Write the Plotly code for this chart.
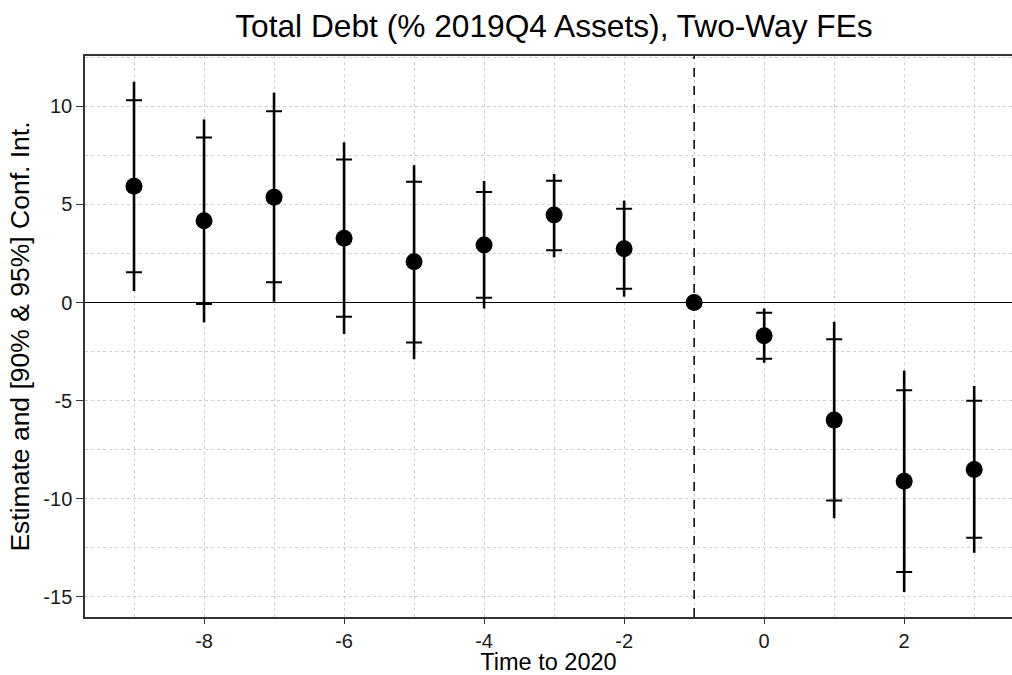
import plotly.graph_objects as go

# Event-time coefficients, relative to the year before 2020
periods = [-9, -8, -7, -6, -5, -4, -3, -2, -1, 0, 1, 2, 3]
estimate = [5.93, 4.17, 5.37, 3.27, 2.08, 2.93, 4.46, 2.74, 0.0, -1.69, -5.99, -9.11, -8.50]
ci95_hi = [11.25, 9.33, 10.69, 8.16, 7.00, 6.19, 6.55, 5.19, 0.0, -0.30, -0.98, -3.47, -4.25]
ci95_lo = [0.59, -1.01, 0.04, -1.60, -2.89, -0.30, 2.30, 0.30, 0.0, -3.07, -10.99, -14.75, -12.75]
ci90_hi = [10.30, 8.41, 9.74, 7.29, 6.15, 5.63, 6.21, 4.78, 0.0, -0.52, -1.87, -4.47, -5.00]
ci90_lo = [1.54, -0.08, 1.03, -0.72, -2.03, 0.25, 2.67, 0.70, 0.0, -2.86, -10.08, -13.73, -11.98]

ref_period = -1

# Tick positions and labels (plain hyphen for negatives)
x_tickvals = [-8, -6, -4, -2, 0, 2]
x_ticktext = ["-8", "-6", "-4", "-2", "0", "2"]
y_tickvals = [-15, -10, -5, 0, 5, 10]
y_ticktext = ["-15", "-10", "-5", "0", "5", "10"]

err95_up = [h - e for h, e in zip(ci95_hi, estimate)]
err95_dn = [e - l for l, e in zip(ci95_lo, estimate)]
err90_up = [h - e for h, e in zip(ci90_hi, estimate)]
err90_dn = [e - l for l, e in zip(ci90_lo, estimate)]

fig = go.Figure()

# 95% interval: plain vertical segment
fig.add_trace(go.Scatter(
    x=periods, y=estimate, mode="markers",
    marker=dict(size=0.1, color="rgba(0,0,0,0)"),
    error_y=dict(type="data", symmetric=False, array=err95_up, arrayminus=err95_dn,
                 width=0, thickness=2.6, color="black"),
    showlegend=False, hoverinfo="skip",
))

# 90% interval: horizontal bars at the bounds
fig.add_trace(go.Scatter(
    x=periods, y=estimate, mode="markers",
    marker=dict(size=0.1, color="rgba(0,0,0,0)"),
    error_y=dict(type="data", symmetric=False, array=err90_up, arrayminus=err90_dn,
                 width=8, thickness=2, color="black"),
    showlegend=False, hoverinfo="skip",
))

# Point estimates
fig.add_trace(go.Scatter(
    x=periods, y=estimate, mode="markers",
    marker=dict(size=17, color="black"),
    showlegend=False,
))

# Reference period marker
fig.add_shape(type="line", xref="x", yref="paper", x0=ref_period, x1=ref_period,
              y0=0, y1=1, line=dict(color="black", width=1.5, dash="dash"))

grid_col = "#d0d0d0"
grid_dash = "3px,3px"
fig.update_layout(
    width=1012, height=675,
    margin=dict(l=85, r=0, t=56, b=58),
    paper_bgcolor="white", plot_bgcolor="white",
    font=dict(family="Liberation Sans, Arial, sans-serif", color="black"),
    title=dict(text="Total Debt (% 2019Q4 Assets), Two-Way FEs",
               x=0.5474, xanchor="center", y=0.962, yanchor="middle",
               font=dict(size=31.7, color="black")),
    xaxis=dict(
        range=[-9.70, 3.54], tickmode="array", tickvals=x_tickvals, ticktext=x_ticktext,
        showgrid=True, gridcolor=grid_col, griddash=grid_dash, gridwidth=1,
        minor=dict(dtick=1, tick0=-9, showgrid=True, gridcolor=grid_col,
                   griddash=grid_dash, gridwidth=1),
        zeroline=False,
        showline=True, linecolor="#333333", linewidth=1.5, mirror=True,
        ticks="outside", ticklen=5, tickcolor="#333333", tickwidth=1.2,
        tickfont=dict(size=20, color="#1a1a1a"),
        title=dict(text="Time to 2020", font=dict(size=23.5, color="black"), standoff=2),
    ),
    yaxis=dict(
        range=[-16.02, 12.56], tickmode="array", tickvals=y_tickvals, ticktext=y_ticktext,
        showgrid=True, gridcolor=grid_col, griddash=grid_dash, gridwidth=1,
        minor=dict(dtick=2.5, tick0=0, showgrid=True, gridcolor=grid_col,
                   griddash=grid_dash, gridwidth=1),
        zeroline=True, zerolinecolor="black", zerolinewidth=1.3,
        showline=True, linecolor="#333333", linewidth=1.5,
        ticks="outside", ticklen=7, tickcolor="#333333", tickwidth=1.2,
        tickfont=dict(size=20, color="#1a1a1a"),
        title=dict(text="Estimate and [90% & 95%] Conf. Int.",
                   font=dict(size=26.5, color="black"), standoff=6),
    ),
)

fig.write_html("out.html")
